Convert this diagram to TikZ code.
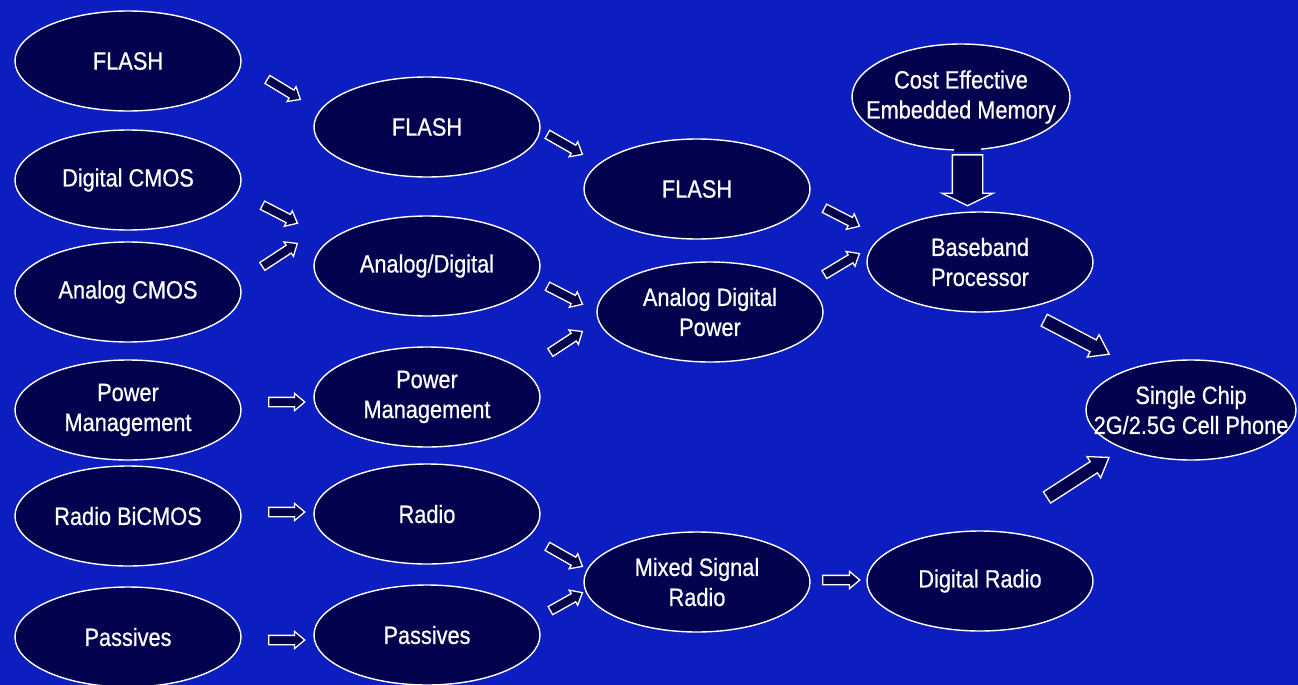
\documentclass[tikz,border=0pt]{standalone}
\usepackage{fontspec}
\setmainfont{Liberation Sans}[FakeStretch=0.87,FakeBold=0.6]
\usetikzlibrary{shapes.geometric,shapes.arrows,calc}
\definecolor{bg}{RGB}{12,30,192}
\definecolor{navy}{RGB}{2,2,78}
\tikzset{
 oval/.style={ellipse, draw=white, fill=navy, line width=1.4pt, minimum width=226pt, minimum height=100pt, inner sep=0pt, text=white, align=center, font=\fontsize{25}{30}\selectfont},
 arr/.style={single arrow, draw=white, fill=navy, line width=1.3pt, inner xsep=0pt, inner ysep=4pt, outer sep=0pt, minimum width=1pt, single arrow head extend=4pt, single arrow tip angle=80, single arrow head indent=0pt, allow upside down},
 bigarr/.style={arr, inner ysep=6pt, single arrow head extend=6pt, single arrow tip angle=70},
 downarr/.style={arr, inner ysep=14.5pt, single arrow head extend=10.5pt, single arrow tip angle=128},
}
\newcommand\blockarrow[3][arr]{\path let \p1=($(#3)-(#2)$), \n1={veclen(\x1,\y1)} in (#2) -- (#3) node[midway, sloped, #1, minimum height=\n1] {};}
\begin{document}
\begin{tikzpicture}[x=1pt,y=-1pt]
\fill[bg] (0,0) rectangle (1298,685);
\useasboundingbox (0,0) rectangle (1298,685);
% column 1
\node[oval] (f1) at (128,61) {FLASH};
\node[oval] (dcmos) at (128,180) {Digital CMOS};
\node[oval] (acmos) at (128,292) {Analog CMOS};
\node[oval] (pm1) at (128,410) {Power\\Management};
\node[oval] (rbic) at (128,516) {Radio BiCMOS};
\node[oval] (pas1) at (128,637) {Passives};
% column 2
\node[oval] (f2) at (427,127) {FLASH};
\node[oval] (ad) at (427,266) {Analog/Digital};
\node[oval] (pm2) at (427,397) {Power\\Management};
\node[oval] (radio) at (427,514) {Radio};
\node[oval] (pas2) at (427,635) {Passives};
% column 3
\node[oval] (f3) at (697,189) {FLASH};
\node[oval] (adp) at (710,312) {Analog Digital\\Power};
\node[oval] (msr) at (697,582) {Mixed Signal\\Radio};
% column 4
\node[oval] (bb) at (980,262) {Baseband\\Processor};
\node[oval] (dr) at (980,581) {Digital Radio};
\node[oval, minimum width=218pt, minimum height=106pt, inner xsep=-22pt] (cem) at (961,97) {Cost Effective\\Embedded Memory};
% column 5
\node[oval, minimum width=210pt, minimum height=100pt, inner xsep=-32pt] (sc) at (1191,410) {Single Chip\\2G/2.5G Cell Phone};
% arrow end points
\coordinate (a1s) at (265,78);  \coordinate (a1e) at (298,98);
\coordinate (a2s) at (545,133); \coordinate (a2e) at (580,153);
\coordinate (a3s) at (822,207); \coordinate (a3e) at (857,225);
\coordinate (a4s) at (822,276); \coordinate (a4e) at (857,255);
\coordinate (a5s) at (260,204); \coordinate (a5e) at (295,222);
\coordinate (a6s) at (260,268); \coordinate (a6e) at (295,245);
\coordinate (a7s) at (545,285); \coordinate (a7e) at (580,303);
\coordinate (a8s) at (548,354); \coordinate (a8e) at (580,333);
\coordinate (a9s) at (266,402); \coordinate (a9e) at (302,402);
\coordinate (a10s) at (266,512); \coordinate (a10e) at (302,512);
\coordinate (a11s) at (266,640); \coordinate (a11e) at (302,640);
\coordinate (a12s) at (545,545); \coordinate (a12e) at (580,565);
\coordinate (a13s) at (548,612); \coordinate (a13e) at (580,594);
\coordinate (a14s) at (820,580); \coordinate (a14e) at (857,580);
\coordinate (a15s) at (1040,318); \coordinate (a15e) at (1105,352);
\coordinate (a16s) at (1043,500); \coordinate (a16e) at (1105,460);
\coordinate (a17s) at ($(cem.south)+(6.5,0.5)$); \coordinate (a17e) at (967.5,202);
\blockarrow{a1s}{a1e}
\blockarrow{a2s}{a2e}
\blockarrow{a3s}{a3e}
\blockarrow{a4s}{a4e}
\blockarrow{a5s}{a5e}
\blockarrow{a6s}{a6e}
\blockarrow{a7s}{a7e}
\blockarrow{a8s}{a8e}
\blockarrow{a9s}{a9e}
\blockarrow{a10s}{a10e}
\blockarrow{a11s}{a11e}
\blockarrow{a12s}{a12e}
\blockarrow{a13s}{a13e}
\blockarrow{a14s}{a14e}
\blockarrow[bigarr]{a15s}{a15e}
\blockarrow[bigarr]{a16s}{a16e}
\blockarrow[downarr]{a17s}{a17e}
% merge the shaft of the down arrow into the memory ellipse
\fill[navy] ($(a17s)+(-13.3,-4)$) rectangle ($(a17s)+(13.3,1.2)$);
\end{tikzpicture}
\end{document}
